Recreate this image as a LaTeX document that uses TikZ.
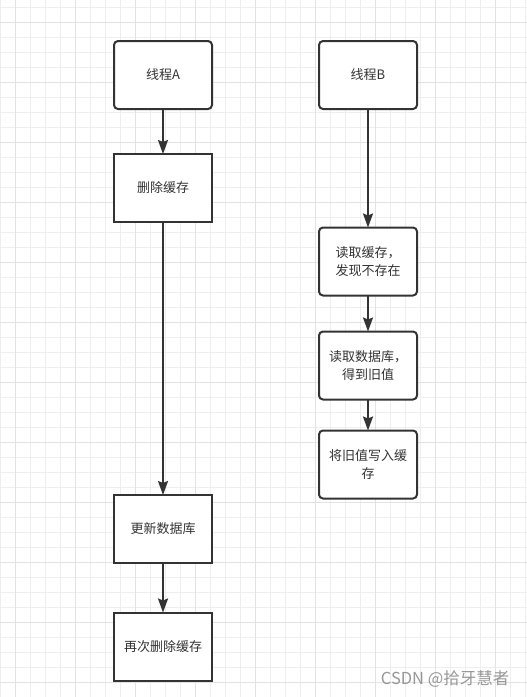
\documentclass[tikz,border=0pt]{standalone}
\usepackage{fontspec}
\setmainfont{Noto Sans CJK SC}
\usetikzlibrary{arrows.meta, positioning}
\definecolor{inkgray}{RGB}{51,51,51}
\definecolor{gridlight}{RGB}{238,238,238}
\definecolor{griddark}{RGB}{226,226,226}
\definecolor{markgray}{RGB}{150,150,150}
\tikzset{
    flowbox/.style={rectangle, draw=inkgray, fill=white, line width=2pt, outer sep=0pt, minimum width=98pt, minimum height=68pt, inner sep=4pt, align=center, text=inkgray, font=\fontsize{13}{18.5}\selectfont},
    flowround/.style={flowbox, rounded corners=4pt},
    flowarrow/.style={-{Stealth[length=14pt, width=10pt, inset=2pt]}, draw=inkgray, line width=2pt},
    flowmark/.style={font=\fontsize{16.5}{18}\selectfont, text=markgray}
}

\begin{document}
\begin{tikzpicture}[x=1pt, y=1pt]

\useasboundingbox (0,0) rectangle (527,-697);
% background grid
\foreach \x in {0.7,15.7,...,527} \draw[gridlight, line width=1pt] (\x,0) -- (\x,-697);
\foreach \y in {7,22,...,697} \draw[gridlight, line width=1pt] (0,-\y) -- (527,-\y);
\foreach \x in {15.7,75.7,...,527} \draw[griddark, line width=1pt] (\x,0) -- (\x,-697);
\foreach \y in {22,82,...,697} \draw[griddark, line width=1pt] (0,-\y) -- (527,-\y);

% thread A
\node[flowround] (threadA) at (163,-75) {线程A};
\node[flowbox, below=45pt of threadA] (delcache) {删除缓存};
\node[flowbox, below=273pt of delcache] (updatedb) {更新数据库};
\node[flowbox, below=49.5pt of updatedb] (delagain) {再次删除缓存};

% thread B
\node[flowround] (threadB) at (368,-75) {线程B};
\node[flowround, below=118.5pt of threadB] (readcache) {读取缓存，\\发现不存在};
\node[flowround, below=36pt of readcache] (readdb) {读取数据库，\\得到旧值};
\node[flowround, below=31pt of readdb] (writecache) {将旧值写入缓\\存};

\draw[flowarrow] (threadA) -- (delcache);
\draw[flowarrow] (delcache) -- (updatedb);
\draw[flowarrow] (updatedb) -- (delagain);
\draw[flowarrow] (threadB) -- (readcache);
\draw[flowarrow] (readcache) -- (readdb);
\draw[flowarrow] (readdb) -- (writecache);

\node[flowmark, anchor=east] (mark) at (513,-679) {CSDN @拾牙慧者};

\end{tikzpicture}
\end{document}
